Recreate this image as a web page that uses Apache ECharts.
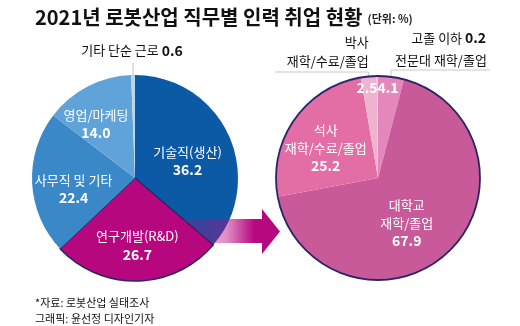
<!DOCTYPE html>
<html><head><meta charset="utf-8">
<script src="https://cdn.jsdelivr.net/npm/echarts/dist/echarts.min.js"></script>
<style>html,body{margin:0;padding:0;background:#fff}#c{width:520px;height:326px}</style>
</head><body><div id="c"></div>
<script>
// ---- data ----
const jobNames = ['기술직(생산)', '연구개발(R&D)', '사무직 및 기타', '영업/마케팅', '기타 단순 근로'];
const jobValues = [36.2, 26.7, 22.4, 14.0, 0.6];
const eduNames = ['전문대 재학/졸업', '대학교\n재학/졸업', '석사\n재학/수료/졸업', '박사\n재학/수료/졸업', '고졸 이하'];
const eduValues = [4.1, 67.9, 25.2, 2.5, 0.2];
const titleText = '2021년 로봇산업 직무별 인력 취업 현황';
const unitText = '(단위: %)';
const sourceLines = ['*자료: 로봇산업 실태조사', '그래픽: 윤선정 디자인기자'];

// ---- styles ----
const FONT = "'Noto Sans CJK KR','Noto Sans',sans-serif";
const L = {cx: 135, cy: 178, r: 103};
const R = {cx: 378, cy: 178, r: 102};
const jobColors = ['#0c5aa6', '#b6077f', '#3b88c8', '#5fa3d8', '#bcd4e8'];
const eduColors = ['#e488bc', '#c85a9a', '#e26ea5', '#eeb3cf', '#f3c9de'];
const NAVY = '#2b2567';
const MAG = '184,8,127';
const jobLabelShift = [[3, 6], [1, 13], [-7, 8], [-14, -6], [-2, -73]];
const eduLabelShift = [[3, -37], [-8, 5], [-8, 1], [-6, -37], [71, -86]];

const fmt = v => Number(v).toFixed(1);
function cum(values, i) { let s = 0; for (let k = 0; k < i; k++) s += values[k]; return s; }
function total(values) { return values.reduce((a, b) => a + b, 0); }
function midAng(values, i) { return (cum(values, i) + values[i] / 2) / total(values) * 2 * Math.PI; }
function endAng(values, i) { return cum(values, i + 1) / total(values) * 2 * Math.PI; }

const rich = {
  n: {color: '#fff', fontSize: 13, lineHeight: 18, fontFamily: FONT},
  v: {color: '#fff', fontSize: 14, fontWeight: 'bold', lineHeight: 18, fontFamily: FONT},
  d: {color: '#111', fontSize: 13, lineHeight: 18, fontFamily: FONT},
  b: {color: '#111', fontSize: 14, fontWeight: 'bold', lineHeight: 18, fontFamily: FONT}
};
function nameBlock(name) { return name.split('\n').map(s => '{n|' + s + '}').join('\n'); }

const chart = echarts.init(document.getElementById('c'), null, {renderer: 'canvas'});

// arrow geometry derived from the boundary between slice 0 and 1 of left pie
const a1 = endAng(jobValues, 0);
const bx = y => L.cx + (y - L.cy) * Math.sin(a1) / (-Math.cos(a1));
const arrowPts = [[bx(219), 219], [262, 219], [262, 209], [280, 231.5], [262, 254], [262, 243], [bx(243), 243]];

// leader lines
const lx0 = L.cx + L.r * Math.sin(midAng(jobValues, 4));
const ma3 = midAng(eduValues, 3), ma0 = midAng(eduValues, 0);
const px = R.cx + R.r * Math.sin(ma3), py = R.cy - R.r * Math.cos(ma3);
const qx = R.cx + R.r * Math.sin(ma0), qy = R.cy - R.r * Math.cos(ma0);

const textStyle = {fontFamily: FONT, fontSize: 13, fill: '#111'};

chart.setOption({
  animation: false,
  backgroundColor: '#fff',
  title: [{
    left: 30, top: 2,
    text: '{t|' + titleText + '} {u|' + unitText + '}',
    textStyle: {rich: {
      t: {fontFamily: FONT, fontSize: 20, fontWeight: 'bold', color: '#111'},
      u: {fontFamily: FONT, fontSize: 11, color: '#222', padding: [4, 0, 0, 0]}
    }}
  }, {
    left: 30, top: 290,
    text: sourceLines.join('\n'),
    textStyle: {fontFamily: FONT, fontSize: 11, fontWeight: 'normal', color: '#111', lineHeight: 16}
  }],
  series: [{
    type: 'pie', center: [L.cx, L.cy], radius: [0, L.r], startAngle: 90, clockwise: true,
    silent: true, avoidLabelOverlap: false, z: 2,
    data: jobNames.map((n, i) => ({
      name: n, value: jobValues[i],
      itemStyle: i === 1 ? {color: jobColors[i], borderColor: NAVY, borderWidth: 1.5}
                         : {color: jobColors[i], borderWidth: 0}
    })),
    label: {
      show: true, position: 'inside', overflow: 'none', rich: rich, align: 'center',
      formatter: p => p.dataIndex === 4 ? '{d|' + p.name + ' }{b|' + fmt(p.value) + '}'
                                        : nameBlock(p.name) + '\n{v|' + fmt(p.value) + '}'
    },
    labelLine: {show: false},
    labelLayout: p => ({dx: jobLabelShift[p.dataIndex][0], dy: jobLabelShift[p.dataIndex][1]})
  }, {
    type: 'pie', center: [R.cx, R.cy], radius: [0, R.r], startAngle: 90, clockwise: true,
    silent: true, avoidLabelOverlap: false, z: 2,
    data: eduNames.map((n, i) => ({name: n, value: eduValues[i], itemStyle: {color: eduColors[i], borderWidth: 0}})),
    label: {
      show: true, position: 'inside', overflow: 'none', rich: rich, align: 'center',
      formatter: p => {
        const i = p.dataIndex;
        if (i === 0 || i === 3) return '{v|' + fmt(p.value) + '}';
        if (i === 4) return '{d|' + p.name + ' }{b|' + fmt(p.value) + '}';
        return nameBlock(p.name) + '\n{v|' + fmt(p.value) + '}';
      }
    },
    labelLine: {show: false},
    labelLayout: p => ({dx: eduLabelShift[p.dataIndex][0], dy: eduLabelShift[p.dataIndex][1]})
  }],
  graphic: [
    {type: 'circle', z: 5, silent: true, shape: {cx: R.cx, cy: R.cy, r: R.r},
     style: {fill: 'none', stroke: NAVY, lineWidth: 1.8}},
    {type: 'polygon', z: 4, silent: true, shape: {points: arrowPts},
     style: {fill: new echarts.graphic.LinearGradient(bx(219), 0, 262, 0, [
       {offset: 0, color: 'rgba(' + MAG + ',0.2)'},
       {offset: 0.55, color: 'rgba(' + MAG + ',0.45)'},
       {offset: 0.9, color: 'rgba(' + MAG + ',1)'},
       {offset: 1, color: 'rgba(' + MAG + ',1)'}
     ], true)}},
    {type: 'polyline', z: 3, silent: true, shape: {points: [[lx0, L.cy - L.r + 2], [lx0, 63]]},
     style: {stroke: '#c8ccd4', lineWidth: 1.2}},
    {type: 'polyline', z: 3, silent: true, shape: {points: [[px, py + 2], [px, 72], [275, 72]]},
     style: {stroke: '#c8c8c8', lineWidth: 1, fill: 'none'}},
    {type: 'polyline', z: 3, silent: true, shape: {points: [[qx, qy + 2], [qx, 70], [490, 70]]},
     style: {stroke: '#c8c8c8', lineWidth: 1, fill: 'none'}},
    {type: 'text', z: 6, silent: true, x: px, y: 71,
     style: Object.assign({}, textStyle, {text: eduNames[3], align: 'right', verticalAlign: 'bottom', lineHeight: 19})},
    {type: 'text', z: 6, silent: true, x: qx + 4, y: 70,
     style: Object.assign({}, textStyle, {text: eduNames[0], align: 'left', verticalAlign: 'bottom', lineHeight: 19})}
  ]
});
</script></body></html>
